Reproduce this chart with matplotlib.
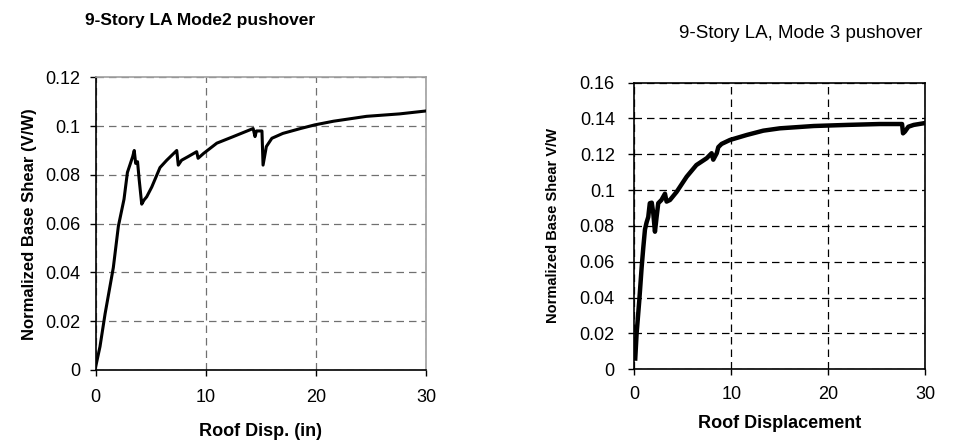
import matplotlib
matplotlib.use("Agg")
import matplotlib.pyplot as plt

# Mode 2 pushover (left panel)
disp_m2 = [0, 0.39, 0.85, 1.6, 2.06, 2.57, 2.88, 3.36, 3.5, 3.63, 3.8, 3.95, 4.18,
           4.39, 4.63, 5.09, 5.84, 6.45, 7.36, 7.5, 7.8, 8.4, 9.17, 9.3, 9.8, 11.0,
           12.5, 14.3, 14.47, 14.6, 15.1, 15.2, 15.5, 16.0, 17.0, 18.6, 19.9, 21.6,
           24.6, 27.6, 30.0]
shear_m2 = [0.0014, 0.0096, 0.023, 0.042, 0.059, 0.070, 0.081, 0.0875, 0.090, 0.0847,
            0.0854, 0.078, 0.068, 0.0697, 0.071, 0.075, 0.083, 0.086, 0.090, 0.084,
            0.086, 0.0875, 0.0895, 0.0868, 0.0888, 0.093, 0.0957, 0.099, 0.0957,
            0.098, 0.098, 0.084, 0.0916, 0.095, 0.097, 0.099, 0.1005, 0.102, 0.104,
            0.105, 0.1062]

# Mode 3 pushover (right panel)
disp_m3 = [0.1, 0.24, 0.52, 0.76, 0.93, 1.1, 1.27, 1.44, 1.6, 1.8, 1.96, 2.13, 2.3,
           2.47, 2.8, 3.16, 3.33, 3.68, 4.36, 5.4, 6.4, 7.46, 7.97, 8.14, 8.5, 8.66,
           9.0, 9.86, 11.6, 13.3, 15.0, 18.5, 21.9, 25.3, 27.6, 27.7, 27.9, 28.25,
           28.8, 29.8]
shear_m3 = [0.006, 0.020, 0.0387, 0.057, 0.068, 0.078, 0.082, 0.085, 0.0927, 0.093,
            0.087, 0.0768, 0.085, 0.0927, 0.0945, 0.098, 0.0936, 0.0945, 0.099,
            0.1075, 0.114, 0.1178, 0.1206, 0.117, 0.1206, 0.124, 0.1258, 0.128,
            0.1308, 0.1332, 0.1345, 0.1358, 0.1364, 0.1369, 0.1369, 0.1317, 0.1327,
            0.1354, 0.1364, 0.1373]

xticks = [0, 10, 20, 30]
yticks_m2 = [0, 0.02, 0.04, 0.06, 0.08, 0.1, 0.12]
yticks_m3 = [0, 0.02, 0.04, 0.06, 0.08, 0.1, 0.12, 0.14, 0.16]

plt.rcParams['font.family'] = ['Liberation Sans', 'DejaVu Sans']

fig = plt.figure(figsize=(9.59, 4.41), dpi=100)

def fmt(v):
    return '0' if v == 0 else ('%g' % v)

def setup(ax, yticks, grid_color, frame_color, xpad, ypad):
    ax.set_xlim(0, 30)
    ax.set_ylim(yticks[0], yticks[-1])
    ax.set_xticks(xticks)
    ax.set_yticks(yticks)
    ax.set_yticklabels([fmt(v) for v in yticks])
    ax.tick_params(labelsize=13, direction='out', length=4, width=1)
    ax.tick_params(axis='x', pad=xpad)
    ax.tick_params(axis='y', pad=ypad)
    ax.grid(True, linestyle=(0, (6, 4)), color=grid_color, linewidth=0.9)
    ax.spines['left'].set_color('black')
    ax.spines['bottom'].set_color('black')
    ax.spines['top'].set_color(frame_color)
    ax.spines['right'].set_color(frame_color)
    for s in ax.spines.values():
        s.set_linewidth(1.2)

# left
ax1 = fig.add_axes([0.0998, 0.161, 0.3444, 0.6637])
ax1.plot(disp_m2, shear_m2, color='black', linewidth=2.2, zorder=3)
setup(ax1, yticks_m2, '#707070', '#a0a0a0', 10, 7)
fig.text(0.089, 0.953, '9-Story LA Mode2 pushover', fontsize=12.5,
         fontweight='bold', ha='left', va='center')
ax1.set_xlabel('Roof Disp. (in)', fontsize=13, fontweight='bold', labelpad=12)
ax1.set_ylabel('Normalized Base Shear (V/W)', fontsize=12, fontweight='bold',
               labelpad=6)

# right
ax2 = fig.add_axes([0.6614, 0.1626, 0.3035, 0.65])
ax2.plot(disp_m3, shear_m3, color='black', linewidth=3.2, zorder=3)
setup(ax2, yticks_m3, 'black', 'black', 8, 10)
fig.text(0.708, 0.925, '9-Story LA, Mode 3 pushover', fontsize=13.5,
         ha='left', va='center')
ax2.set_xlabel('Roof Displacement', fontsize=13, fontweight='bold', labelpad=9)
ax2.set_ylabel('Normalized Base Shear V/W', fontsize=10.5,
               fontweight='bold', labelpad=14)

fig.savefig('out.png', dpi=100)
